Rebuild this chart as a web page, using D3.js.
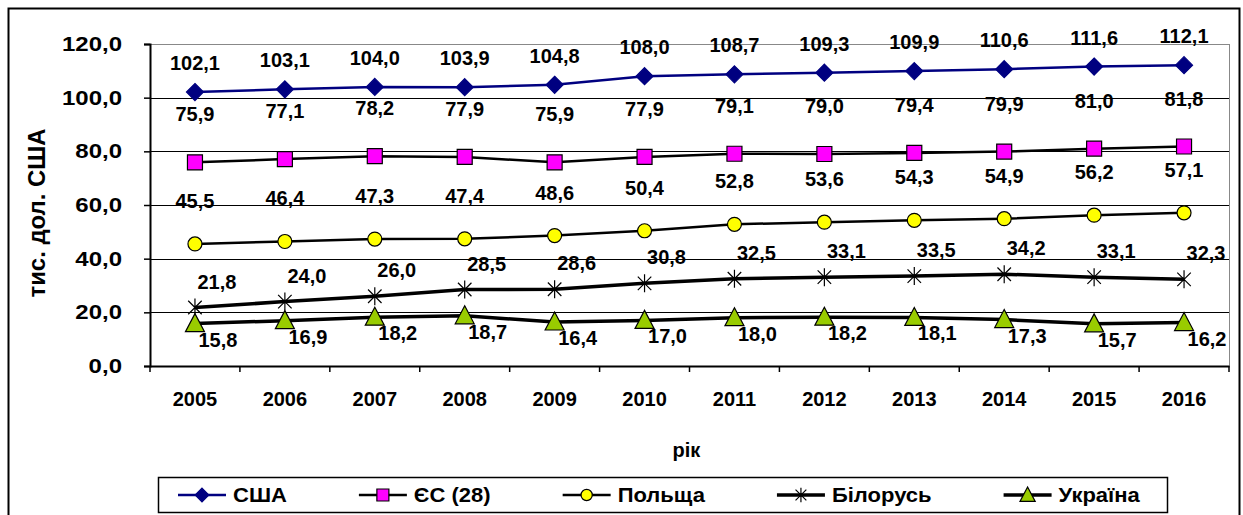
<!DOCTYPE html>
<html>
<head>
<meta charset="utf-8">
<script src="https://cdn.jsdelivr.net/npm/d3@7"></script>
<style>
  body { margin: 0; background: #fff; }
  text { font-family: "Liberation Sans", Arial, sans-serif; font-weight: bold; }
</style>
</head>
<body>
<div id="chart"></div>
<script>
const years = ["2005", "2006", "2007", "2008", "2009", "2010", "2011", "2012", "2013", "2014", "2015", "2016"];
const usa     = [102.1, 103.1, 104.0, 103.9, 104.8, 108.0, 108.7, 109.3, 109.9, 110.6, 111.6, 112.1];
const eu28    = [75.9, 77.1, 78.2, 77.9, 75.9, 77.9, 79.1, 79.0, 79.4, 79.9, 81.0, 81.8];
const poland  = [45.5, 46.4, 47.3, 47.4, 48.6, 50.4, 52.8, 53.6, 54.3, 54.9, 56.2, 57.1];
const belarus = [21.8, 24.0, 26.0, 28.5, 28.6, 30.8, 32.5, 33.1, 33.5, 34.2, 33.1, 32.3];
const ukraine = [15.8, 16.9, 18.2, 18.7, 16.4, 17.0, 18.0, 18.2, 18.1, 17.3, 15.7, 16.2];
const seriesNames = ["США", "ЄС (28)", "Польща", "Білорусь", "Україна"];
const yTicks = [0, 20, 40, 60, 80, 100, 120];

const svgWidth = 1243;
const svgHeight = 515;
const margin = { top: 44, right: 14, bottom: 149, left: 150 };
const width = svgWidth - margin.left - margin.right;
const height = svgHeight - margin.top - margin.bottom;

const svg = d3.select("#chart")
  .append("svg")
  .attr("width", svgWidth)
  .attr("height", svgHeight);

// texto algo más ancho, como en el original
function stretch(sel, k) {
  sel.each(function () {
    const w = this.getComputedTextLength();
    d3.select(this).attr("textLength", w * k).attr("lengthAdjust", "spacingAndGlyphs");
  });
}

// marco exterior
svg.append("rect")
  .attr("x", 8.5).attr("y", 8.5)
  .attr("width", 1231).attr("height", 520)
  .attr("fill", "none").attr("stroke", "#000").attr("stroke-width", 2);

const g = svg.append("g")
  .attr("transform", `translate(${margin.left},${margin.top})`);

const x = d3.scaleBand().domain(years).range([0, width]);
const y = d3.scaleLinear().domain([0, 120]).range([height, 0]);
const fmt = v => d3.format(".1f")(v).replace(".", ",");

// rejilla
g.selectAll(".grid")
  .data(yTicks)
  .enter()
  .append("line")
  .attr("x1", 0).attr("x2", width)
  .attr("y1", d => Math.round(y(d)) + 0.5)
  .attr("y2", d => Math.round(y(d)) + 0.5)
  .attr("stroke", d => d === 120 ? "#888" : "#000").attr("stroke-width", 1);

// borde derecho del área
g.append("line")
  .attr("x1", width + 0.5).attr("x2", width + 0.5)
  .attr("y1", 0).attr("y2", height)
  .attr("stroke", "#888").attr("stroke-width", 1);

// eje Y
const yAxis = g.append("g")
  .call(d3.axisLeft(y).tickValues(yTicks).tickFormat(fmt).tickSize(6).tickPadding(22));
yAxis.select(".domain").attr("stroke-width", 2);
yAxis.selectAll("text").attr("font-size", 20).attr("fill", "#000")
  .style("font-family", "'Liberation Sans', Arial, sans-serif").style("font-weight", "bold")
  .call(stretch, 1.2);
yAxis.selectAll(".tick line").attr("stroke-width", 1.5);

// eje X
const xAxis = g.append("g")
  .attr("transform", `translate(0,${height})`)
  .call(d3.axisBottom(x).tickSize(0).tickPadding(26));
xAxis.select(".domain").attr("stroke-width", 2);
xAxis.selectAll("text").attr("font-size", 20).attr("fill", "#000")
  .style("font-family", "'Liberation Sans', Arial, sans-serif").style("font-weight", "bold");
// marcas entre categorías
g.selectAll(".xtick")
  .data(years.concat(["end"]))
  .enter()
  .append("line")
  .attr("x1", (d, i) => i * x.bandwidth())
  .attr("x2", (d, i) => i * x.bandwidth())
  .attr("y1", height).attr("y2", height + 6)
  .attr("stroke", "#000").attr("stroke-width", 1.5);

// títulos de ejes
svg.append("text")
  .attr("transform", `translate(45,${margin.top + height / 2 + 8}) rotate(-90)`)
  .attr("text-anchor", "middle")
  .attr("font-size", 23)
  .attr("textLength", 169).attr("lengthAdjust", "spacingAndGlyphs")
  .text("тис. дол. США");

svg.append("text")
  .attr("x", margin.left + width / 2 - 3)
  .attr("y", 457)
  .attr("text-anchor", "middle")
  .attr("font-size", 20)
  .text("рік");

// marcadores
function diamondPath(r) { return `M0,${-r}L${r},0L0,${r}L${-r},0Z`; }
function squarePath(r) { return `M${-r},${-r}H${r}V${r}H${-r}Z`; }
function circlePath(r) { return d3.symbol().type(d3.symbolCircle).size(Math.PI * r * r)(); }
function trianglePath(r) { return `M0,${-r}L${r * 0.95},${r * 0.8}L${-r * 0.95},${r * 0.8}Z`; }
function starPath(r) {
  let p = `M0,${-r}L0,${r}`;
  const d = r * 0.75;
  p += `M${-d},${-d}L${d},${d}M${-d},${d}L${d},${-d}`;
  return p;
}

const series = [
  { name: seriesNames[0], values: usa, line: "#000080", lw: 2.5, fill: "#000080", stroke: "#000080", shape: k => diamondPath(8.5 * k), labelDy: -29, labelDx: 0 },
  { name: seriesNames[1], values: eu28, line: "#000", lw: 2.5, fill: "#FF00FF", stroke: "#000", shape: k => squarePath(7.5 * k), labelDy: -48, labelDx: 0 },
  { name: seriesNames[2], values: poland, line: "#000", lw: 2.5, fill: "#FFFF00", stroke: "#000", shape: k => circlePath(7 * k), labelDy: -43, labelDx: 0 },
  { name: seriesNames[3], values: belarus, line: "#000", lw: 3.5, fill: "none", stroke: "#000", shape: k => starPath(9 * k), labelDy: -26, labelDx: 22 },
  { name: seriesNames[4], values: ukraine, line: "#000", lw: 3.5, fill: "#99CC00", stroke: "#000", shape: k => trianglePath(10 * k), labelDy: 16, labelDx: 23 }
];

const cx = d => x(d) + x.bandwidth() / 2;
const line = d3.line().x(d => cx(d.year)).y(d => y(d.v));

series.forEach(s => {
  const pts = years.map((yr, i) => ({ year: yr, v: s.values[i] }));
  g.append("path")
    .datum(pts)
    .attr("d", line)
    .attr("fill", "none")
    .attr("stroke", s.line)
    .attr("stroke-width", s.lw);

  g.selectAll(null)
    .data(pts)
    .enter()
    .append("path")
    .attr("transform", d => `translate(${cx(d.year)},${y(d.v)})`)
    .attr("d", s.shape(1))
    .attr("fill", s.fill)
    .attr("stroke", s.stroke)
    .attr("stroke-width", 1.2);
});

// etiquetas encima de todo
series.forEach(s => {
  const pts = years.map((yr, i) => ({ year: yr, v: s.values[i] }));
  g.selectAll(null)
    .data(pts)
    .enter()
    .append("text")
    .attr("x", d => cx(d.year) + s.labelDx)
    .attr("y", d => y(d.v) + s.labelDy)
    .attr("dy", "0.35em")
    .attr("text-anchor", "middle")
    .attr("font-size", 20)
    .text(d => fmt(d.v));
});

// leyenda
const legend = svg.append("g");
legend.append("rect")
  .attr("x", 158.5).attr("y", 477.5)
  .attr("width", 1009).attr("height", 35)
  .attr("fill", "#fff").attr("stroke", "#000").attr("stroke-width", 1.5);

let lx0 = 178;
series.forEach(s => {
  const ly = 495;
  const lx = lx0 + 24;
  legend.append("line")
    .attr("x1", lx0).attr("x2", lx0 + 48)
    .attr("y1", ly).attr("y2", ly)
    .attr("stroke", s.line).attr("stroke-width", s.lw);
  legend.append("path")
    .attr("transform", `translate(${lx},${ly})`)
    .attr("d", s.shape(0.8))
    .attr("fill", s.fill)
    .attr("stroke", s.stroke)
    .attr("stroke-width", 1.2);
  const t = legend.append("text")
    .attr("x", lx0 + 55)
    .attr("y", ly)
    .attr("dy", "0.35em")
    .attr("font-size", 20)
    .text(s.name);
  const w = t.node().getComputedTextLength() * 1.1;
  t.attr("textLength", w).attr("lengthAdjust", "spacingAndGlyphs");
  lx0 += 55 + w + 72;
});
</script>
</body>
</html>
